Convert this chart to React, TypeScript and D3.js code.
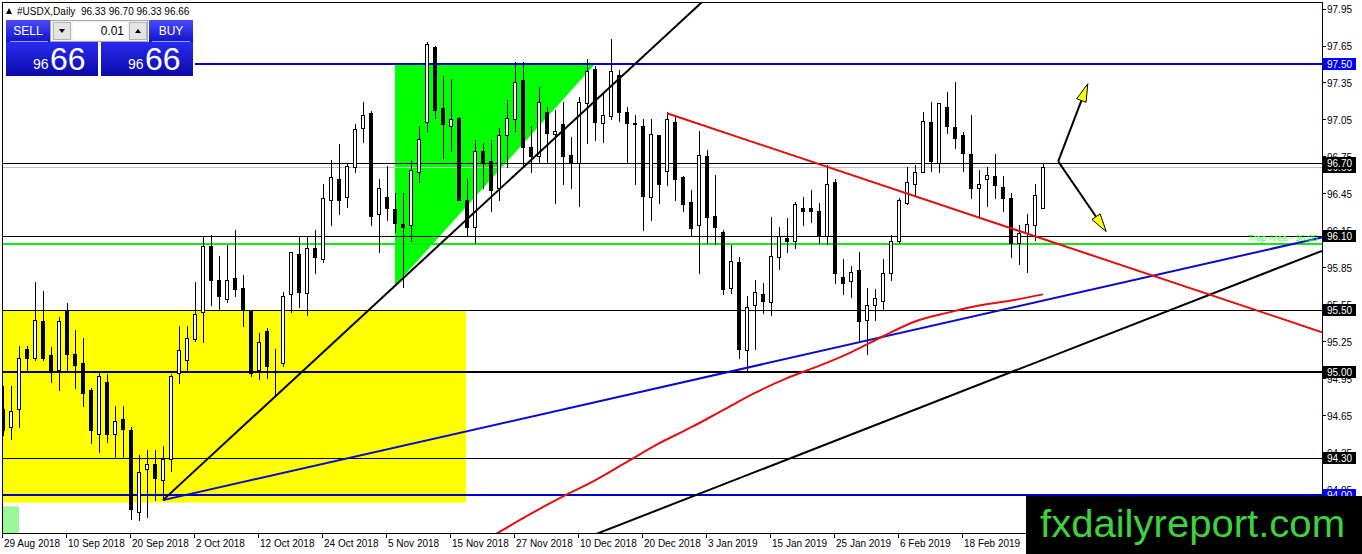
import React from "react";
import * as d3 from "d3";

// ---------- DATA ----------
const opens = [
  94.70, 94.55, 94.70, 95.19, 95.11, 95.41, 95.14, 95.02, 95.50, 95.15,
  95.07, 94.85, 94.50, 94.92, 94.50, 94.62, 94.53, 93.86, 94.21, 94.25,
  94.12, 94.29, 94.99, 95.10, 95.27, 95.49, 96.02, 95.75, 95.59, 95.76,
  95.68, 95.50, 95.02, 95.33, 95.06, 95.07, 95.63, 95.96, 95.64, 96.01,
  95.92, 96.40, 96.57, 96.42, 96.66, 96.98, 97.10, 96.28, 96.42, 96.32,
  96.20, 96.19, 96.62, 97.03, 97.64, 97.14, 97.00, 97.06, 96.40, 96.18,
  96.79, 96.71, 96.49, 96.92, 97.05, 97.37, 96.83, 96.75, 97.11, 96.93,
  97.01, 96.76, 96.70, 97.18, 97.46, 97.02, 97.08, 97.41, 97.11, 97.02,
  97.00, 96.42, 96.92, 96.63, 97.03, 96.58, 96.38, 96.19, 96.75, 96.27,
  96.14, 95.68, 95.89, 95.18, 95.54, 95.63, 95.57, 95.93, 96.09, 96.06,
  96.33, 96.33, 96.31, 96.10, 96.54, 95.77, 95.74, 95.83, 95.42, 95.54,
  95.58, 95.80, 96.06, 96.37, 96.53, 96.62, 97.03, 96.70, 97.15, 96.99,
  96.92, 96.77, 96.49, 96.57, 96.59, 96.50, 96.41, 96.05, 96.13, 96.19,
  96.33,
];
const highs = [
  94.89, 94.89, 95.21, 95.21, 95.73, 95.66, 95.20, 95.45, 95.56, 95.34,
  95.28, 94.87, 94.99, 94.98, 94.72, 94.72, 94.55, 94.33, 94.37, 94.37,
  94.40, 94.98, 95.37, 95.37, 95.73, 96.10, 96.11, 95.94, 96.03, 96.15,
  95.79, 95.50, 95.32, 95.36, 95.19, 95.65, 95.97, 96.10, 96.10, 96.15,
  96.53, 96.72, 96.85, 96.70, 97.01, 97.19, 97.12, 96.57, 96.67, 96.45,
  96.45, 96.72, 97.00, 97.68, 97.65, 97.40, 97.38, 97.07, 96.57, 96.88,
  96.86, 96.88, 96.98, 97.21, 97.52, 97.52, 97.00, 97.31, 97.15, 97.13,
  97.19, 96.91, 97.23, 97.54, 97.48, 97.27, 97.70, 97.45, 97.15, 97.09,
  97.05, 97.05, 96.92, 97.11, 97.07, 96.59, 96.48, 96.96, 96.80, 96.60,
  96.15, 96.03, 95.93, 95.62, 95.75, 95.72, 96.26, 96.18, 96.25, 96.38,
  96.42, 96.48, 96.37, 96.68, 96.57, 95.92, 95.86, 95.97, 95.68, 95.67,
  95.92, 96.11, 96.41, 96.66, 96.68, 97.11, 97.19, 97.18, 97.27, 97.35,
  96.95, 97.09, 96.64, 96.66, 96.77, 96.59, 96.45, 96.19, 96.28, 96.53,
  96.70,
];
const lows = [
  94.49, 94.46, 94.55, 95.00, 95.10, 95.10, 94.92, 94.85, 95.02, 94.87,
  94.72, 94.42, 94.35, 94.43, 94.31, 94.31, 93.81, 93.80, 93.82, 93.96,
  93.96, 94.20, 94.91, 95.00, 95.25, 95.24, 95.54, 95.50, 95.57, 95.62,
  95.37, 94.97, 94.94, 94.95, 94.81, 95.05, 95.49, 95.53, 95.46, 95.80,
  95.89, 96.19, 96.28, 96.34, 96.62, 96.87, 96.19, 95.97, 96.23, 96.14,
  95.69, 96.06, 96.54, 96.96, 97.06, 96.74, 96.79, 96.40, 96.10, 96.05,
  96.49, 96.31, 96.40, 96.66, 96.96, 96.68, 96.62, 96.70, 96.70, 96.37,
  96.53, 96.49, 96.35, 96.86, 96.88, 96.87, 97.05, 97.04, 96.70, 96.53,
  96.15, 96.23, 96.37, 96.52, 96.40, 96.31, 96.10, 95.80, 96.05, 96.04,
  95.63, 95.64, 95.11, 95.02, 95.19, 95.48, 95.46, 95.84, 95.97, 96.01,
  96.19, 96.22, 96.05, 96.04, 95.72, 95.63, 95.61, 95.24, 95.15, 95.42,
  95.50, 95.75, 96.05, 96.36, 96.43, 96.62, 96.63, 96.62, 96.94, 96.82,
  96.63, 96.41, 96.27, 96.35, 96.41, 96.31, 95.93, 95.88, 95.81, 96.07,
  96.33,
];
const closes = [
  94.53, 94.68, 95.11, 95.11, 95.42, 95.11, 95.02, 95.41, 95.15, 95.06,
  94.83, 94.53, 94.97, 94.50, 94.60, 94.54, 93.89, 94.19, 94.25, 94.14,
  94.29, 94.97, 95.18, 95.28, 95.47, 96.02, 95.75, 95.62, 95.75, 95.67,
  95.50, 94.99, 95.24, 95.05, 95.06, 95.62, 95.97, 95.65, 96.01, 95.93,
  96.41, 96.58, 96.40, 96.67, 96.97, 97.09, 96.27, 96.49, 96.33, 96.21,
  96.18, 96.64, 96.89, 97.66, 97.13, 97.01, 97.05, 96.40, 96.18, 96.79,
  96.70, 96.48, 96.92, 97.06, 97.35, 96.83, 96.75, 97.19, 96.94, 96.96,
  96.75, 96.70, 97.19, 97.44, 97.03, 97.09, 97.44, 97.11, 97.02, 97.01,
  96.43, 96.93, 96.53, 97.05, 96.57, 96.36, 96.17, 96.76, 96.26, 96.18,
  95.67, 95.90, 95.19, 95.53, 95.65, 95.58, 95.94, 96.10, 96.06, 96.36,
  96.31, 96.31, 96.11, 96.53, 95.80, 95.72, 95.81, 95.41, 95.54, 95.60,
  95.80, 96.06, 96.40, 96.54, 96.62, 97.04, 96.71, 97.18, 97.00, 96.90,
  96.78, 96.49, 96.53, 96.60, 96.52, 96.41, 96.05, 96.13, 96.20, 96.44,
  96.66,
];

const dateLabels = [
  "29 Aug 2018", "10 Sep 2018", "20 Sep 2018", "2 Oct 2018", "12 Oct 2018",
  "24 Oct 2018", "5 Nov 2018", "15 Nov 2018", "27 Nov 2018", "10 Dec 2018",
  "20 Dec 2018", "3 Jan 2019", "15 Jan 2019", "25 Jan 2019", "6 Feb 2019",
  "18 Feb 2019",
];
const dateLabelIdx = [0, 8, 16, 24, 32, 40, 48, 56, 64, 72, 80, 88, 96, 104, 112, 120];

const priceTicks = [97.95, 97.65, 97.35, 97.05, 96.75, 96.45, 96.15, 95.85, 95.55, 95.25, 94.95, 94.65, 94.35, 94.05];

// horizontal levels
const blueLevels = [97.5, 94.0];
const blackLevels = [96.7, 96.1, 95.5, 94.3];
const thickBlackLevels = [95.0];
const bidLevel = 96.66;
const trapLevel = 96.04;
const trapText = "Trap Area - 96.05";

// price marker boxes [price, kind]
const markerPrices = [94.0, 94.3, 95.0, 95.5, 96.1, 96.66, 96.7, 97.5];
const markerKinds = ["blue", "black", "black", "black", "black", "black", "black", "blue"];

// moving average
const maIdx = [58, 62, 66, 70, 74, 78, 82, 86, 90, 94, 98, 102, 106, 110, 114, 118, 122, 126, 130];
const maVals = [93.55, 93.70, 93.85, 93.99, 94.12, 94.27, 94.42, 94.55, 94.69, 94.83, 94.95, 95.05, 95.16, 95.29, 95.41, 95.48, 95.54, 95.58, 95.63];

// trend lines: [barIndex, price] anchors
const upTrendA: [number, number] = [20, 93.96];
const upTrendB: [number, number] = [65, 96.66];
const blueTrendA: [number, number] = [20, 93.96];
const blueTrendB: [number, number] = [92, 95.02];
const lowTrendA: [number, number] = [100, 94.34];
const lowTrendB: [number, number] = [130, 95.10];
const redTrendA: [number, number] = [83, 97.10];
const redTrendB: [number, number] = [130, 96.08];

// shapes
const yellowBox = { i0: 0, i1: 57.9, p0: 93.94, p1: 95.5 };
const paleBox = { i0: 0, i1: 2, p0: 93.6, p1: 93.91 };
const greenTri: [number, number][] = [[49, 97.5], [74, 97.5], [49, 95.70]];

// arrows
const arrowStart: [number, number] = [131.9, 96.71];
const arrowUpEnd: [number, number] = [135.6, 97.34];
const arrowDownEnd: [number, number] = [137.9, 96.14];

const headerText = "#USDX,Daily  96.33 96.70 96.33 96.66";

// ---------- LAYOUT ----------
const W = 1362;
const H = 554;
const L = 3, R = 1322, T = 3, B = 533;
const FONT = "'Liberation Sans', Arial, sans-serif";

export default function App() {
  const x = d3.scaleLinear().domain([0, 1]).range([3, 11]);
  const y = d3.scaleLinear().domain([95, 97.5]).range([372, 64]);

  const ray = (a: [number, number], b: [number, number], both = false) => {
    const x1 = x(a[0]), y1 = y(a[1]), x2 = x(b[0]), y2 = y(b[1]);
    const s = (y2 - y1) / (x2 - x1);
    const xs = both ? L - 10 : x1;
    const ys = y1 + s * (xs - x1);
    const ye = y1 + s * (R - x1);
    return { x1: xs, y1: ys, x2: R, y2: ye };
  };

  const up = ray(upTrendA, upTrendB);
  const blue = ray(blueTrendA, blueTrendB);
  const low = ray(lowTrendA, lowTrendB, true);
  const red = ray(redTrendA, redTrendB);

  const maLine = d3
    .line<number>()
    .x((_, k) => x(maIdx[k]))
    .y((v) => y(v))
    .curve(d3.curveMonotoneX)(maVals) as string;

  const triPath = d3.line<[number, number]>().x((d) => x(d[0])).y((d) => y(d[1]))(greenTri) + "Z";

  const arrowHead = (from: [number, number], to: [number, number]) => {
    const fx = x(from[0]), fy = y(from[1]), tx = x(to[0]), ty = y(to[1]);
    const ang = Math.atan2(ty - fy, tx - fx);
    const len = 18, half = 5;
    const bx = tx - len * Math.cos(ang), by = ty - len * Math.sin(ang);
    const px = -Math.sin(ang), py = Math.cos(ang);
    return {
      line: { x1: fx, y1: fy, x2: bx, y2: by },
      head: `M${tx},${ty}L${bx + px * half},${by + py * half}L${bx - px * half},${by - py * half}Z`,
    };
  };
  const aUp = arrowHead(arrowStart, arrowUpEnd);
  const aDown = arrowHead(arrowStart, arrowDownEnd);

  const crisp = (v: number) => Math.round(v) + 0.5;

  return (
    <svg
      width={W}
      height={H}
      style={{ position: "absolute", left: 0, top: 0, background: "#fff" }}
      fontFamily={FONT}
    >
      <defs>
        <clipPath id="plot">
          <rect x={L} y={T} width={R - L} height={B - T} />
        </clipPath>
        <linearGradient id="btn" x1="0" y1="0" x2="0" y2="1">
          <stop offset="0" stopColor="#4a4aff" />
          <stop offset="1" stopColor="#1212c8" />
        </linearGradient>
        <linearGradient id="pbox" x1="0" y1="0" x2="0" y2="1">
          <stop offset="0" stopColor="#2a2af0" />
          <stop offset="1" stopColor="#0a0aa8" />
        </linearGradient>
      </defs>
      <rect width={W} height={H} fill="#fff" />

      <g clipPath="url(#plot)">
        {/* background objects */}
        <rect
          x={x(yellowBox.i0)}
          y={y(yellowBox.p1)}
          width={x(yellowBox.i1) - x(yellowBox.i0)}
          height={y(yellowBox.p0) - y(yellowBox.p1)}
          fill="#ffff00"
        />
        <rect
          x={x(paleBox.i0)}
          y={y(paleBox.p1)}
          width={x(paleBox.i1) - x(paleBox.i0)}
          height={y(paleBox.p0) - y(paleBox.p1)}
          fill="#98f898"
        />
        <path d={triPath} fill="#00ff00" />

        {/* horizontal levels */}
        <line x1={L} x2={R} y1={crisp(y(bidLevel))} y2={crisp(y(bidLevel))} stroke="#c0c0c0" strokeWidth={1} />
        {blackLevels.map((p) => (
          <line key={"bl" + p} x1={L} x2={R} y1={crisp(y(p))} y2={crisp(y(p))} stroke="#000" strokeWidth={1} />
        ))}
        {thickBlackLevels.map((p) => (
          <line key={"tb" + p} x1={L} x2={R} y1={Math.round(y(p))} y2={Math.round(y(p))} stroke="#000" strokeWidth={2} />
        ))}
        <line x1={L} x2={R} y1={Math.round(y(trapLevel))} y2={Math.round(y(trapLevel))} stroke="#16e616" strokeWidth={2} />
        {blueLevels.map((p, k) => (
          <line
            key={"bu" + p}
            x1={k === 0 ? 195 : L}
            x2={R}
            y1={Math.round(y(p))}
            y2={Math.round(y(p))}
            stroke="#0000cc"
            strokeWidth={2}
          />
        ))}

        {/* candles */}
        {opens.map((o, i) => {
          const c = closes[i];
          const cx = Math.round(x(i));
          const top = Math.round(y(Math.max(o, c)));
          const bot = Math.round(y(Math.min(o, c)));
          const bull = c >= o;
          return (
            <g key={"c" + i}>
              <line
                x1={cx + 0.5}
                x2={cx + 0.5}
                y1={Math.round(y(highs[i]))}
                y2={Math.round(y(lows[i])) + 1}
                stroke="#000"
                strokeWidth={1}
              />
              <rect
                x={cx - 1.5}
                y={top + 0.5}
                width={3}
                height={Math.max(bot - top, 0)}
                fill={bull ? "#fff" : "#000"}
                stroke="#000"
                strokeWidth={1}
              />
            </g>
          );
        })}

        {/* trend lines */}
        <line {...up} stroke="#000" strokeWidth={2} />
        <line {...low} stroke="#000" strokeWidth={2} />
        <line {...blue} stroke="#0a0acc" strokeWidth={2} />
        <line {...red} stroke="#e01010" strokeWidth={2} />
        <path d={maLine} fill="none" stroke="#e01010" strokeWidth={2} />

        {/* arrows */}
        <line {...aUp.line} stroke="#000" strokeWidth={2} />
        <line {...aDown.line} stroke="#000" strokeWidth={2} />
        <path d={aUp.head} fill="#ffff00" stroke="#000" strokeWidth={1} />
        <path d={aDown.head} fill="#ffff00" stroke="#000" strokeWidth={1} />

        {/* trap text */}
        <text x={1248} y={Math.round(y(trapLevel)) - 3} fontSize={9} fill="#3cff3c">
          {trapText}
        </text>
      </g>

      {/* frame */}
      <rect x={L - 0.5} y={T - 0.5} width={R - L + 1} height={B - T + 1} fill="none" stroke="#000" strokeWidth={1} />

      {/* price axis */}
      {priceTicks.map((p) => (
        <g key={"pt" + p}>
          <line x1={R} x2={R + 4} y1={crisp(y(p))} y2={crisp(y(p))} stroke="#000" />
          <text x={R + 5} y={y(p) + 1} fontSize={10} dominantBaseline="central" fill="#000">
            {p.toFixed(2)}
          </text>
        </g>
      ))}
      {markerPrices.map((p, k) => (
        <g key={"mk" + p}>
          <rect
            x={R + 1}
            y={Math.round(y(p)) - 6}
            width={33}
            height={12}
            fill={markerKinds[k] === "blue" ? "#0000ff" : "#000"}
          />
          <text x={R + 5} y={Math.round(y(p)) + 0.5} fontSize={10} dominantBaseline="central" fill="#fff">
            {p.toFixed(2)}
          </text>
        </g>
      ))}

      {/* time axis */}
      {dateLabelIdx.map((idx, k) => (
        <g key={"dt" + idx}>
          <line x1={crisp(x(idx)) - 1} x2={crisp(x(idx)) - 1} y1={B} y2={B + 5} stroke="#000" />
          <text x={x(idx) + 1} y={547} fontSize={10} fill="#000">
            {dateLabels[k]}
          </text>
        </g>
      ))}

      {/* header */}
      <path d="M6,14L9,8L12,14Z" fill="#000" />
      <text x={17} y={15} fontSize={10} fill="#000" style={{ whiteSpace: "pre" }}>
        {headerText}
      </text>

      {/* one-click trading panel */}
      <g>
        <rect x={5} y={19} width={189} height={58} fill="#fff" />
        <rect x={6} y={20} width={44} height={22} fill="url(#btn)" />
        <text x={28} y={35} fontSize={12} fill="#fff" textAnchor="middle">SELL</text>
        <rect x={50.5} y={20.5} width={97} height={21} fill="#f0f0f0" stroke="#a8a8a8" />
        <rect x={53.5} y={22.5} width={17} height={17} fill="#e4e4e4" stroke="#b4b4b4" />
        <path d="M59,29L65,29L62,33Z" fill="#000" />
        <rect x={72.5} y={22.5} width={55} height={17} fill="#fff" />
        <text x={124} y={35} fontSize={12} fill="#000" textAnchor="end">0.01</text>
        <rect x={129.5} y={22.5} width={17} height={17} fill="#e4e4e4" stroke="#b4b4b4" />
        <path d="M135,33L141,33L138,29Z" fill="#000" />
        <rect x={149} y={20} width={44} height={22} fill="url(#btn)" />
        <text x={171} y={35} fontSize={12} fill="#fff" textAnchor="middle">BUY</text>
        <line x1={10} x2={48} y1={41.5} y2={41.5} stroke="#9a9aff" />
        <line x1={152} x2={190} y1={41.5} y2={41.5} stroke="#9a9aff" />

        <rect x={6} y={42} width={92} height={34} fill="url(#pbox)" />
        <rect x={101} y={42} width={92} height={34} fill="url(#pbox)" />
        <text x={33} y={69} fontSize={14} fill="#fff">96</text>
        <text x={50} y={70} fontSize={32} fill="#fff">66</text>
        <text x={128} y={69} fontSize={14} fill="#fff">96</text>
        <text x={145} y={70} fontSize={32} fill="#fff">66</text>
      </g>

      {/* watermark */}
      <rect x={1026} y={496} width={W - 1026} height={H - 496} fill="#000" />
      <text x={1040} y={537} fontSize={38} fill="#3ed23e" textLength={305} lengthAdjust="spacingAndGlyphs">
        fxdailyreport.com
      </text>
    </svg>
  );
}
